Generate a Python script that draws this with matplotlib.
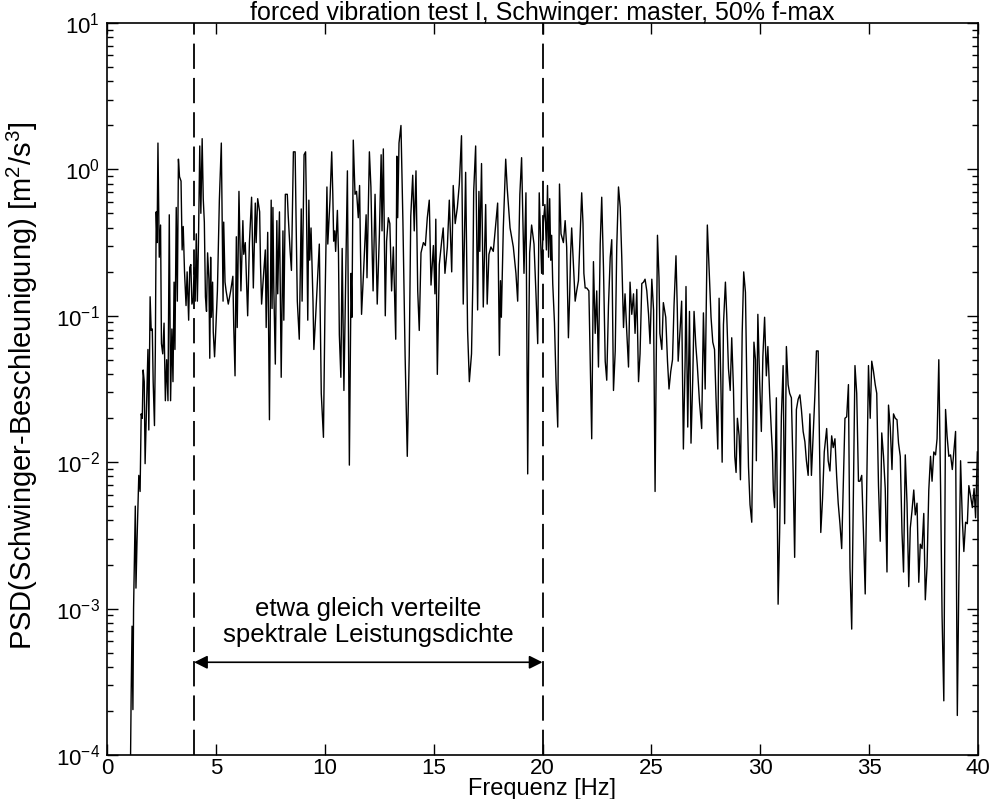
import numpy as np
import matplotlib
matplotlib.use("Agg")
import matplotlib.pyplot as plt

# (frequency [Hz], log10 of PSD [m^2/s^3]), band by band
band_00_05 = [(1.05,-4.5),(1.11,-3.58),(1.15,-3.12),(1.19,-3.69),(1.22,-3.0),(1.30,-2.30),(1.33,-2.86),
    (1.38,-2.53),(1.46,-2.09),(1.52,-2.2),(1.57,-1.67),(1.62,-1.70),(1.66,-1.37),(1.71,-1.45),(1.75,-2.01),
    (1.82,-1.6),(1.88,-1.23),(1.92,-1.78),(1.98,-0.87),(2.03,-1.1),(2.08,-1.09),(2.12,-1.45),(2.18,-1.75),
    (2.22,-1.23),(2.26,-0.29),(2.30,-0.5),(2.34,0.18),(2.40,-0.6),(2.46,-0.38),(2.50,-1.19),(2.56,-1.26),
    (2.62,-1.05),(2.68,-1.58),(2.74,-1.3),(2.80,-1.58),(2.86,-0.31),(2.92,-1.58),(2.98,-1.09),(3.03,-1.45),
    (3.08,-0.77),(3.12,-1.23),(3.18,-0.26),(3.23,-0.9),(3.28,0.07),(3.33,-0.05),(3.40,-0.08),(3.45,-0.55),
    (3.50,-0.39),(3.56,-0.7),(3.63,-0.93),(3.68,-0.70),(3.75,-1.03),(3.80,-0.67),(3.85,-0.65),(3.90,-0.92),
    (3.96,-0.88),(4.00,-0.67),(4.05,-0.9),(4.10,-0.44),(4.15,-0.90),(4.20,-0.5),(4.26,0.16),(4.31,-0.3),
    (4.37,0.21),(4.42,-0.2),(4.47,-0.36),(4.52,-0.87),(4.57,-0.97),(4.62,-0.57),(4.68,-0.75),(4.72,-1.29),
    (4.76,-0.60),(4.79,-1.01),(4.85,-0.77),(4.88,-1.11),(4.94,-1.28),(4.98,-1.15)]
band_05_10 = [(5.07,-0.83),(5.16,-0.21),(5.25,0.18),(5.29,-0.35),(5.33,-0.90),(5.36,-0.36),(5.42,-0.77),
    (5.47,-0.83),(5.57,-0.92),(5.68,-0.83),(5.78,-0.73),(5.82,-1.07),(5.88,-1.41),(5.94,-0.46),(5.98,-1.08),
    (6.06,-0.15),(6.15,-0.83),(6.24,-0.35),(6.28,-0.58),(6.35,-0.50),(6.46,-1.0),(6.54,-0.50),(6.64,-0.19),
    (6.72,-0.81),(6.81,-0.23),(6.85,-0.50),(6.92,-0.20),(7.01,-0.29),(7.05,-0.65),(7.10,-0.92),(7.18,-0.74),
    (7.27,-0.55),(7.31,-1.08),(7.38,-0.43),(7.46,-1.71),(7.54,-0.21),(7.58,-0.95),(7.62,-0.26),(7.66,-0.81),
    (7.73,-1.33),(7.80,-0.35),(7.84,-0.85),(7.92,-0.29),(8.00,-1.42),(8.08,-0.42),(8.12,-1.03),(8.19,-0.17),
    (8.28,-0.17),(8.32,-0.31),(8.41,-0.56),(8.47,-0.69),(8.56,0.12),(8.64,0.12),(8.68,-0.31),(8.74,-0.90),
    (8.83,-1.16),(8.92,-0.27),(8.96,-0.90),(9.05,0.10),(9.12,0.12),(9.16,-0.26),(9.22,-1.03),(9.27,-0.21),
    (9.31,-0.62),(9.37,-0.40),(9.46,-0.90),(9.50,-1.23),(9.58,-1.01),(9.68,-0.71),(9.75,-0.51),(9.84,-1.53),
    (9.94,-1.83)]
band_10_15 = [(10.01,-0.94),(10.10,-0.12),(10.14,-0.51),(10.24,-0.21),(10.32,0.12),(10.37,-0.17),(10.41,-0.49),
    (10.46,-0.42),(10.50,-0.56),(10.58,-0.28),(10.63,-0.57),(10.67,-1.13),(10.74,-1.42),(10.80,-0.54),
    (10.84,-1.03),(10.88,-1.51),(10.96,-0.76),(11.04,-0.01),(11.13,-2.02),(11.21,-0.71),(11.25,-1.01),
    (11.31,0.20),(11.39,-0.17),(11.46,-0.15),(11.54,-0.33),(11.60,-0.11),(11.64,-0.54),(11.69,-0.99),
    (11.77,-0.74),(11.90,-0.31),(11.94,-0.74),(12.05,0.12),(12.12,-0.12),(12.18,-0.58),(12.22,-0.83),
    (12.31,-0.17),(12.41,-0.92),(12.51,-0.44),(12.59,0.10),(12.63,-0.42),(12.69,0.14),(12.78,-1.0),
    (12.84,-0.49),(12.92,-0.33),(12.99,-0.37),(13.07,-0.83),(13.15,-0.53),(13.26,-1.16),(13.31,0.09),
    (13.35,-0.33),(13.41,0.18),(13.50,0.30),(13.59,-0.36),(13.69,-1.27),(13.79,-1.96),(13.88,-1.27),
    (13.95,-0.32),(14.04,-0.04),(14.11,-0.42),(14.19,-0.01),(14.27,-0.83),(14.34,-1.10),(14.42,-0.57),
    (14.53,-0.50),(14.62,-0.52),(14.71,-0.33),(14.80,-0.21),(14.88,-0.79),(14.99,-0.52)]
band_15_20 = [(15.06,-0.85),(15.10,-0.34),(15.17,-1.40),(15.26,-0.65),(15.37,-0.49),(15.44,-0.40),(15.52,-0.71),
    (15.63,-0.53),(15.72,-0.21),(15.83,-0.70),(15.90,-0.11),(15.99,-0.37),(16.09,-0.26),(16.18,-0.10),
    (16.28,0.23),(16.36,-0.92),(16.47,-0.02),(16.56,-1.10),(16.64,-1.45),(16.74,-1.26),(16.80,-0.77),
    (16.84,-0.15),(16.93,0.16),(17.02,-0.96),(17.08,-0.15),(17.12,-0.56),(17.20,0.04),(17.28,-0.94),
    (17.39,-0.24),(17.46,-0.92),(17.54,-0.58),(17.63,-0.53),(17.74,-0.56),(17.85,-0.38),(17.94,-0.23),
    (18.02,-1.27),(18.07,-0.76),(18.11,-1.01),(18.20,-0.40),(18.31,0.07),(18.38,-0.13),(18.51,-0.40),
    (18.66,-0.53),(18.78,-0.71),(18.86,-0.90),(18.96,-0.17),(19.04,0.08),(19.15,-0.71),(19.24,-0.16),
    (19.32,-2.08),(19.37,-1.12),(19.41,-0.57),(19.50,-0.38),(19.61,-0.51),(19.70,-0.85),(19.78,-1.19),
    (19.85,-0.16),(19.96,-0.71)]
band_20_25 = [(20.04,-0.36),(20.11,-0.24),(20.18,-0.55),(20.23,-0.11),(20.28,-0.60),(20.33,-0.20),(20.38,-0.62),
    (20.42,-0.45),(20.47,-0.78),(20.55,-1.05),(20.62,-1.44),(20.70,-1.76),(20.78,-0.10),(20.85,-0.44),
    (20.96,-0.50),(21.04,-0.35),(21.11,-0.53),(21.19,-1.15),(21.25,-0.85),(21.29,-0.58),(21.34,-0.40),
    (21.42,-0.65),(21.50,-0.90),(21.57,-0.83),(21.65,-0.76),(21.73,-0.44),(21.80,-0.16),(21.86,-0.37),
    (21.90,-0.71),(21.96,-0.81),(22.03,-0.81),(22.13,-0.83),(22.19,-1.31),(22.26,-1.84),(22.34,-0.63),
    (22.42,-1.12),(22.49,-0.83),(22.57,-1.35),(22.65,-0.51),(22.72,-0.19),(22.80,-0.67),(22.88,-1.31),
    (22.95,-1.44),(23.03,-0.93),(23.11,-0.60),(23.18,-0.48),(23.26,-1.51),(23.34,-1.24),(23.41,-0.53),
    (23.49,-0.12),(23.57,-0.26),(23.64,-0.60),(23.72,-1.08),(23.79,-0.85),(23.87,-1.11),(23.95,-1.35),
    (24.02,-0.77),(24.10,-0.99),(24.18,-0.85),(24.25,-1.12),(24.33,-0.82),(24.41,-1.45),(24.48,-1.26),
    (24.56,-0.78),(24.64,-0.77),(24.71,-0.75),(24.79,-0.83),(24.87,-0.99),(24.94,-1.19)]
band_25_30 = [(25.02,-0.75),(25.10,-0.96),(25.17,-2.2),(25.22,-1.36),(25.28,-0.45),(25.35,-0.74),(25.39,-1.12),
    (25.48,-1.23),(25.55,-0.91),(25.66,-1.01),(25.74,-1.31),(25.81,-1.50),(25.89,-1.38),(25.97,-1.30),
    (26.04,-0.93),(26.13,-0.59),(26.19,-0.95),(26.23,-1.31),(26.32,-1.09),(26.39,-0.90),(26.47,-1.91),
    (26.55,-1.31),(26.59,-0.80),(26.67,-1.76),(26.75,-0.97),(26.82,-1.87),(26.90,-1.43),(26.96,-0.97),
    (27.04,-1.20),(27.11,-1.34),(27.21,-1.59),(27.31,-1.77),(27.39,-0.98),(27.47,-1.50),(27.57,-0.38),
    (27.67,-0.76),(27.74,-1.01),(27.82,-1.18),(27.90,-1.23),(27.97,-1.57),(28.05,-1.91),(28.11,-0.88),
    (28.19,-1.45),(28.25,-2.00),(28.31,-1.06),(28.40,-0.77),(28.46,-0.99),(28.54,-1.36),(28.62,-1.51),
    (28.69,-1.15),(28.77,-1.50),(28.83,-1.96),(28.89,-2.07),(28.95,-1.70),(29.03,-1.82),(29.09,-2.12),
    (29.17,-1.12),(29.24,-0.70),(29.32,-0.84),(29.38,-1.43),(29.46,-2.03),(29.53,-2.29),(29.61,-2.41),
    (29.66,-1.77),(29.71,-1.18),(29.78,-1.30),(29.82,-1.99),(29.89,-0.99),(29.97,-1.44)]
band_30_35 = [(30.05,-1.79),(30.12,-1.28),(30.20,-1.01),(30.28,-1.41),(30.35,-1.21),(30.43,-1.53),(30.51,-1.79),
    (30.56,-1.93),(30.60,-2.19),(30.66,-2.31),(30.74,-1.56),(30.82,-2.97),(30.89,-2.48),(30.97,-1.69),
    (31.05,-1.34),(31.12,-2.42),(31.20,-1.21),(31.28,-1.47),(31.35,-1.53),(31.43,-1.56),(31.51,-2.07),
    (31.58,-2.65),(31.66,-1.64),(31.74,-1.57),(31.82,-1.54),(31.89,-1.64),(31.97,-1.79),(32.05,-1.86),
    (32.12,-1.99),(32.20,-2.09),(32.28,-1.67),(32.35,-2.09),(32.43,-1.82),(32.51,-1.54),(32.58,-1.24),
    (32.66,-1.24),(32.74,-2.07),(32.78,-2.48),(32.86,-2.25),(32.94,-1.93),(33.05,-1.77),(33.12,-1.99),
    (33.20,-2.06),(33.28,-1.82),(33.35,-1.90),(33.43,-1.84),(33.51,-2.10),(33.58,-2.28),(33.66,-2.42),
    (33.74,-2.59),(33.82,-2.10),(33.89,-1.70),(33.97,-1.69),(34.05,-1.47),(34.12,-2.72),(34.20,-3.14),
    (34.28,-2.16),(34.35,-1.34),(34.43,-1.53),(34.51,-2.13),(34.58,-2.13),(34.66,-2.09),(34.74,-2.48),
    (34.82,-2.90),(34.89,-2.19),(34.97,-1.34)]
band_35_40 = [(35.05,-1.70),(35.12,-1.31),(35.20,-1.38),(35.28,-1.47),(35.35,-1.53),(35.43,-2.16),(35.51,-2.54),
    (35.58,-1.80),(35.66,-1.96),(35.74,-2.18),(35.82,-2.75),(35.89,-1.61),(35.97,-1.76),(36.05,-2.05),
    (36.12,-1.67),(36.20,-1.70),(36.28,-1.71),(36.35,-1.87),(36.43,-1.96),(36.51,-2.48),(36.58,-2.75),
    (36.66,-1.95),(36.74,-2.28),(36.82,-2.85),(36.89,-2.45),(36.97,-2.33),(37.05,-2.19),(37.12,-2.36),
    (37.20,-2.28),(37.28,-2.82),(37.35,-2.56),(37.43,-2.59),(37.51,-2.35),(37.58,-2.94),(37.66,-2.71),
    (37.74,-2.19),(37.82,-1.96),(37.89,-2.13),(37.97,-1.93),(38.05,-1.95),(38.12,-1.84),(38.20,-1.30),
    (38.28,-2.16),(38.35,-3.05),(38.43,-3.63),(38.51,-1.64),(38.58,-1.82),(38.66,-1.96),(38.74,-1.95),
    (38.82,-2.05),(38.89,-1.93),(38.97,-1.79),(39.05,-3.73),(39.12,-2.82),(39.20,-1.99),(39.28,-2.39),
    (39.35,-2.61),(39.43,-2.41),(39.51,-2.42),(39.58,-2.16),(39.66,-2.23),(39.74,-2.31),(39.82,-2.18),
    (39.89,-2.38),(39.97,-1.93)]

marker_lines_hz = [4, 20]
title_text = "forced vibration test I, Schwinger: master, 50% f-max"
xlabel_text = "Frequenz [Hz]"
ylabel_text = "PSD(Schwinger-Beschleunigung) [m$^2$/s$^3$]"
note_text = "etwa gleich verteilte\nspektrale Leistungsdichte"
xticks = [0, 5, 10, 15, 20, 25, 30, 35, 40]

bands = [band_00_05, band_05_10, band_10_15, band_15_20, band_20_25, band_25_30, band_30_35, band_35_40]
pts = np.array([p for b in bands for p in b])
freq = pts[:, 0]
psd = 10.0 ** pts[:, 1]

plt.rcParams['font.family'] = ['Liberation Sans', 'DejaVu Sans']
plt.rcParams['mathtext.fontset'] = 'custom'
plt.rcParams['mathtext.rm'] = 'Liberation Sans'

W, H = 994, 799
fig = plt.figure(figsize=(W/100, H/100), dpi=100)
ax = fig.add_axes([107/W, 1-755/H, (978-107)/W, (755-23)/H])

ax.semilogy(freq, psd, color='black', lw=1.0)
for xv in marker_lines_hz:
    ax.axvline(xv, color='black', lw=1.3, linestyle=(0, (14, 5)))

ax.annotate('', xy=(4, 4.3e-4), xytext=(20, 4.3e-4),
            arrowprops=dict(arrowstyle='<|-|>', color='black', lw=1.2,
                            mutation_scale=20, shrinkA=0, shrinkB=0))
ax.text(12, 8.1e-4, note_text, ha='center', va='center', fontsize=18.5, linespacing=1.1)

ax.set_xlim(0, 40)
ax.set_ylim(1e-4, 1e1)
ax.set_xticks(xticks)
ax.set_xticklabels([str(t) for t in xticks])
ax.tick_params(which='both', direction='in', top=True, right=True, labelsize=16, width=1)
ax.tick_params(which='major', length=8)
ax.tick_params(which='minor', length=4)
ax.tick_params(axis='x', pad=2.5)
ax.tick_params(axis='y', pad=5)
for s in ax.spines.values():
    s.set_linewidth(1.2)

fig.text(542/W, 1-20/H, title_text, ha='center', va='baseline', fontsize=18)
fig.text(542/W, 1-795/H, xlabel_text, ha='center', va='baseline', fontsize=17)
fig.text(22/W, 1-386/H, ylabel_text, ha='center', va='center', rotation=90, fontsize=21)

fig.savefig('out.png', dpi=100)
